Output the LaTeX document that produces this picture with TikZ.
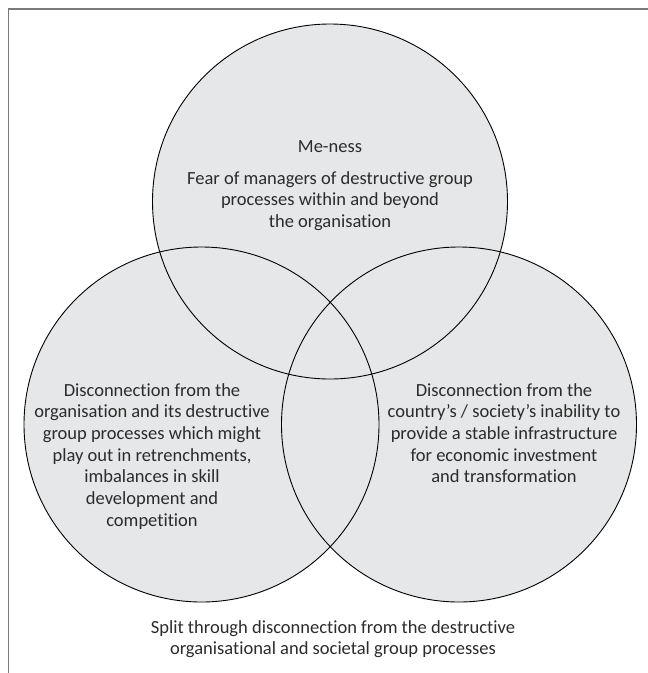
\documentclass[tikz,border=0pt]{standalone}
\usepackage{fontspec}
\setmainfont[Ligatures=NoCommon]{Carlito}
\definecolor{circfill}{HTML}{E6E7E8}
\definecolor{txt}{HTML}{2B2B2B}
\definecolor{framec}{HTML}{7A7A7A}
\begin{document}
\begin{tikzpicture}[x=1pt,y=-1pt,
  circ/.style={circle,minimum size=355pt,inner sep=0pt,fill=circfill},
  ring/.style={draw=black,line width=0.9pt},
  lbl/.style={align=center,text=txt,font=\fontsize{18.5}{21.7}\selectfont,inner sep=0pt},
  frameline/.style={draw=framec,line width=1.2pt}]
\useasboundingbox (0,0) rectangle (648,673);
\coordinate (fr1) at (8.5,673);
\coordinate (fr2) at (8.5,9);
\coordinate (fr3) at (648,9);
\draw[frameline] (fr1) -- (fr2) -- (fr3);
\node[circ] (top) at (330,201.5) {};
\node[circ] (left) at (201.5,424.5) {};
\node[circ] (right) at (459,424.5) {};
\draw[ring] (top.center) circle[radius=177.5];
\draw[ring] (left.center) circle[radius=177.5];
\draw[ring] (right.center) circle[radius=177.5];
\node[lbl] (me) at (330,146.5) {Me-ness};
\node[lbl,anchor=north] (fear) at (330,171) {Fear of managers of destructive group\\processes within and beyond\\the organisation};
\node[lbl,anchor=north] (ltxt) at (152,383) {Disconnection from the\\organisation and its destructive\\group processes which might\\play out in retrenchments,\\imbalances in skill\\development and\\competition};
\node[lbl,anchor=north] (rtxt) at (504,383) {Disconnection from the\\country’s / society’s inability to\\provide a stable infrastructure\\for economic investment\\and transformation};
\node[lbl,anchor=north] (split) at (333,620) {Split through disconnection from the destructive\\organisational and societal group processes};
\end{tikzpicture}
\end{document}
